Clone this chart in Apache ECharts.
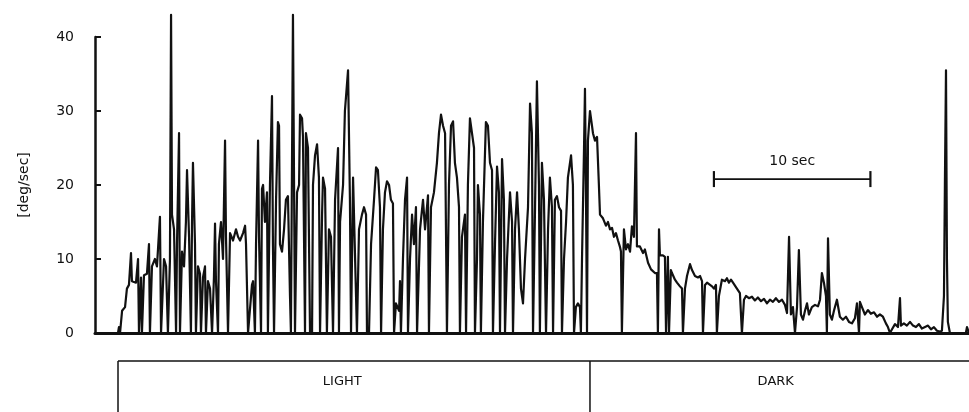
<!DOCTYPE html>
<html>
<head>
<meta charset="utf-8">
<title>Eye velocity, light vs dark</title>
<script src="https://cdn.jsdelivr.net/npm/echarts@6/dist/echarts.min.js"></script>
<style>
  html, body { margin: 0; padding: 0; background: #fff; }
  #chart { width: 969px; height: 412px; }
</style>
</head>
<body>
<div id="chart"></div>
<script>
// Sample times (s) of the velocity trace
const time = [
  1.47, 1.53, 1.60, 1.73, 1.92, 2.04, 2.17, 2.30, 2.36, 2.62, 2.75, 2.81, 2.94, 3.00, 3.13, 3.32, 3.45, 3.51, 3.64, 3.83,
  3.96, 4.15, 4.22, 4.41, 4.54, 4.66, 4.79, 4.86, 4.92, 5.05, 5.18, 5.24, 5.37, 5.43, 5.56, 5.69, 5.81, 5.88, 6.01, 6.13,
  6.20, 6.26, 6.39, 6.45, 6.58, 6.71, 6.77, 6.90, 7.03, 7.09, 7.22, 7.35, 7.48, 7.60, 7.67, 7.73, 7.86, 7.92, 8.05, 8.18,
  8.31, 8.37, 8.50, 8.63, 8.82, 9.01, 9.14, 9.27, 9.46, 9.59, 9.65, 9.78, 9.90, 10.03, 10.10, 10.22, 10.29, 10.42, 10.48, 10.61,
  10.67, 10.74, 10.86, 10.99, 11.05, 11.18, 11.31, 11.37, 11.44, 11.57, 11.69, 11.76, 11.82, 11.95, 12.08, 12.20, 12.33, 12.46, 12.52, 12.65,
  12.72, 12.78, 12.91, 13.04, 13.10, 13.23, 13.29, 13.42, 13.48, 13.61, 13.74, 13.87, 13.93, 14.06, 14.19, 14.31, 14.38, 14.51, 14.57, 14.70,
  14.82, 14.95, 15.08, 15.21, 15.34, 15.53, 15.59, 15.66, 15.85, 15.97, 16.17, 16.29, 16.36, 16.49, 16.61, 16.74, 16.87, 17.06, 17.19, 17.32,
  17.38, 17.51, 17.64, 17.83, 17.96, 18.08, 18.21, 18.28, 18.40, 18.53, 18.66, 18.79, 18.91, 19.04, 19.11, 19.23, 19.43, 19.49, 19.55, 19.68,
  19.81, 19.94, 20.00, 20.13, 20.26, 20.38, 20.51, 20.58, 20.77, 20.96, 21.09, 21.28, 21.34, 21.47, 21.66, 21.85, 21.98, 22.11, 22.24, 22.37,
  22.49, 22.62, 22.75, 22.88, 23.00, 23.13, 23.26, 23.32, 23.45, 23.64, 23.71, 23.83, 23.96, 24.09, 24.22, 24.28, 24.41, 24.47, 24.60, 24.66,
  24.79, 24.98, 25.11, 25.24, 25.37, 25.43, 25.56, 25.69, 25.81, 25.88, 26.01, 26.13, 26.20, 26.33, 26.52, 26.65, 26.71, 26.84, 26.97, 27.09,
  27.22, 27.35, 27.48, 27.67, 27.80, 27.92, 27.99, 28.12, 28.24, 28.37, 28.43, 28.56, 28.69, 28.82, 28.95, 29.07, 29.20, 29.27, 29.39, 29.52,
  29.65, 29.78, 29.84, 29.97, 30.10, 30.22, 30.42, 30.54, 30.61, 30.73, 30.86, 30.99, 31.05, 31.12, 31.25, 31.31, 31.37, 31.44, 31.50, 31.63,
  31.76, 31.82, 31.95, 32.08, 32.20, 32.27,
  32.46, 32.65, 32.78, 32.91, 33.04, 33.16, 33.29, 33.42, 33.55, 33.61, 33.67, 33.80, 33.93, 34.06, 34.19, 34.31, 34.44, 34.57, 34.63, 34.82,
  35.02, 35.14, 35.34, 35.53, 35.78, 35.91, 35.97, 36.04, 36.10, 36.29, 36.42, 36.49, 36.61, 36.68, 36.80, 36.87, 37.06, 37.19, 37.38, 37.51,
  37.57, 37.70, 37.83, 38.02, 38.15, 38.34, 38.53, 38.66, 38.79, 38.85, 38.98, 39.11, 39.30, 39.43, 39.55, 39.68, 39.74, 39.87, 40.06, 40.26,
  40.38, 40.51, 40.64, 40.77, 40.89, 41.02, 41.21, 41.34, 41.47, 41.60, 41.79, 41.98, 42.17, 42.36, 42.56, 42.75, 42.94, 43.13, 43.32, 43.51,
  43.71, 43.90, 44.09, 44.22, 44.35, 44.41, 44.47, 44.60, 44.73, 44.86, 44.98, 45.05, 45.11, 45.24, 45.37, 45.50, 45.62, 45.81, 46.01, 46.20,
  46.33, 46.45, 46.58, 46.71, 46.77, 46.84, 46.90, 46.96, 47.09, 47.22, 47.41, 47.60, 47.79, 47.99, 48.18, 48.37, 48.56, 48.69, 48.82, 48.88,
  49.01, 49.20, 49.39, 49.58, 49.78, 49.97, 50.16, 50.35, 50.54, 50.67, 50.80, 50.93, 51.12, 51.31, 51.44, 51.50, 51.69, 51.88, 52.08, 52.27,
  52.46, 52.65, 52.84, 53.04, 53.23, 53.42, 53.61, 53.80, 53.99, 54.12, 54.25, 54.31, 54.38, 54.44, 54.50, 54.63, 55.65, 55.72, 55.85
];

// Eye velocity (deg/sec) at each sample time
const speed = [
  0, 0.8, 0, 3, 3.5, 6, 6.5, 10.8, 7, 6.8, 10, 0, 7.5, 0, 7.8, 8, 12, 0, 9, 10,
  9, 15.7, 0, 10, 9, 0, 10, 43, 16, 14, 0, 12, 27, 0, 11, 9, 15, 22, 13, 0,
  15, 23, 12, 0, 9, 8, 0, 7.5, 9, 0, 7, 6, 0, 7.5, 14.8, 7, 0, 12, 15, 10,
  26, 13, 0, 13.5, 12.5, 14, 13, 12.5, 13.5, 14.5, 12, 0, 0, 6.5, 7, 0, 12, 26, 13, 0,
  19.5, 20, 15, 19, 0, 20, 32, 12, 0, 18, 28.5, 28, 12, 11, 14, 18, 18.5, 5, 0, 43,
  20, 0, 19, 20, 29.5, 29, 26.5, 0, 27, 25, 0, 0, 20, 24, 25.5, 21, 0, 16, 21, 19.5,
  0, 14, 13, 0, 18, 25, 0, 15, 20, 30, 35.5, 18, 0, 21, 21, 0, 14, 16, 17, 16,
  0, 0, 12, 18, 22.4, 22, 17, 0, 14, 19, 20.5, 20, 18, 17.5, 0, 4, 3, 7, 0, 10,
  18, 21, 0, 10, 16, 12, 17, 0, 14, 18, 14, 18.6, 0, 17, 19, 23, 27, 29.5, 28, 27,
  0, 20, 28, 28.6, 23, 21, 17, 0, 13, 16, 0, 20, 29, 27, 25, 0, 10, 20, 16, 0,
  15, 28.5, 28, 23, 22, 0, 12, 22.5, 19, 0, 23.5, 18, 0, 10, 19, 15, 0, 14, 19, 14,
  6, 4, 10, 17, 31, 27, 0, 17, 34, 20, 0, 23, 18, 0, 14, 21, 17, 0, 18, 18.5,
  17, 16.5, 0, 10, 15, 21, 24, 20, 0, 3.5, 4, 3.5, 0, 10, 25, 33, 20, 0, 26, 30,
  28, 27, 26, 26.5, 20, 16,
  15.5, 14.5, 15, 14, 14.2, 13, 13.5, 12.5, 11.6, 11, 0, 14, 11.3, 12, 11, 14.4, 13, 27, 11.7, 11.7,
  10.8, 11.3, 9.5, 8.6, 8.1, 8.1, 0, 14, 10.5, 10.5, 10.3, 0, 10.3, 0, 8.5, 8.1, 7.2, 6.8, 6.3, 6,
  0, 6, 7.7, 9.3, 8.5, 7.7, 7.5, 7.7, 7, 0, 6.5, 6.8, 6.5, 6.3, 6, 6.5, 0, 5, 7.2, 7,
  7.4, 6.8, 7.2, 6.8, 7, 6, 5.4, 0, 4.5, 5, 4.7, 4.9, 4.4, 4.8, 4.3, 4.6, 4, 4.5, 4.2, 4.7,
  4.2, 4.5, 3.8, 2.7, 13, 13, 2.5, 3.5, 0, 3.5, 11.2, 11.2, 2.5, 1.8, 3, 4, 2.5, 3.5, 3.8, 3.6,
  4.5, 8.1, 6.8, 5, 0, 12.8, 12.8, 2.5, 1.8, 3, 4.5, 2.2, 1.8, 2.2, 1.5, 1.3, 2, 4, 0, 4.2,
  3.5, 2.5, 3.1, 2.6, 2.8, 2.2, 2.5, 2.2, 1.3, 0.8, 0, 0.5, 1.2, 0.8, 4.7, 1, 1.3, 1, 1.5, 1,
  0.8, 1.2, 0.6, 0.8, 1, 0.5, 0.8, 0.3, 0.2, 0.3, 5, 20, 35.5, 10, 1.5, 0, 0, 0.8, 0
];

// Stimulus periods shown in the bar under the trace
const periodNames = ['LIGHT', 'DARK'];
const periodBounds = [1.47, 31.63, 55.85];
const periodLabelAt = [15.8, 43.5];

// 10-second calibration bar (start, end in s) and its height (deg/sec)
const scaleBarTime = [39.55, 49.55];
const scaleBarLevel = 20.8;
const scaleBarText = '10 sec';

const ink = '#111';
const fontFamily = 'DejaVu Sans, Liberation Sans, sans-serif';

const chart = echarts.init(document.getElementById('chart'), null, { renderer: 'canvas' });

const option = {
  animation: false,
  backgroundColor: '#fff',
  grid: { left: 95, right: 0, top: 37, bottom: 79 },
  xAxis: {
    type: 'value',
    min: 0,
    max: 55.85,
    axisLine: { show: true, onZero: false, lineStyle: { color: ink, width: 3 } },
    axisTick: { show: false },
    axisLabel: { show: false },
    splitLine: { show: false }
  },
  yAxis: {
    type: 'value',
    min: 0,
    max: 40,
    interval: 10,
    name: '[deg/sec]',
    nameLocation: 'middle',
    nameRotate: 90,
    nameGap: 64,
    nameTextStyle: { color: ink, fontSize: 14, fontFamily },
    axisLine: { show: true, lineStyle: { color: ink, width: 2.5 } },
    axisTick: { show: true, inside: true, length: 6, lineStyle: { color: ink, width: 2 } },
    axisLabel: { color: ink, fontSize: 14, fontFamily, margin: 21 },
    splitLine: { show: false }
  },
  series: [{
    type: 'line',
    data: time.map((t, i) => [t, speed[i]]),
    symbol: 'none',
    clip: false,
    lineStyle: { color: ink, width: 2.2, join: 'round', cap: 'round' }
  }]
};
chart.setOption(option);

// Period bar and calibration bar, placed through the axes' own scales
function px(t, v) { return chart.convertToPixel({ gridIndex: 0 }, [t, v]); }
const base = px(0, 0)[1];
const barTop = base + 28;
const barBottom = base + 90;
const elements = [];

elements.push({
  type: 'line',
  shape: { x1: px(periodBounds[0], 0)[0], y1: barTop, x2: px(periodBounds[2], 0)[0], y2: barTop },
  style: { stroke: ink, lineWidth: 1.5 }
});
periodBounds.slice(0, 2).forEach(b => {
  const x = px(b, 0)[0];
  elements.push({
    type: 'line',
    shape: { x1: x, y1: barTop, x2: x, y2: barBottom },
    style: { stroke: ink, lineWidth: 1.5 }
  });
});
periodNames.forEach((name, i) => {
  elements.push({
    type: 'text',
    x: px(periodLabelAt[i], 0)[0],
    y: barTop + 21,
    style: {
      text: name, fill: ink, font: '13px ' + fontFamily,
      align: 'center', verticalAlign: 'middle'
    }
  });
});

const s0 = px(scaleBarTime[0], scaleBarLevel);
const s1 = px(scaleBarTime[1], scaleBarLevel);
elements.push({ type: 'line', shape: { x1: s0[0], y1: s0[1], x2: s1[0], y2: s1[1] }, style: { stroke: ink, lineWidth: 1.8 } });
[s0, s1].forEach(p => {
  elements.push({ type: 'line', shape: { x1: p[0], y1: p[1] - 8, x2: p[0], y2: p[1] + 8 }, style: { stroke: ink, lineWidth: 2.2 } });
});
elements.push({
  type: 'text',
  x: (s0[0] + s1[0]) / 2,
  y: s0[1] - 18,
  style: { text: scaleBarText, fill: ink, font: '14px ' + fontFamily, align: 'center', verticalAlign: 'middle' }
});

chart.setOption({ graphic: elements });
</script>
</body>
</html>
